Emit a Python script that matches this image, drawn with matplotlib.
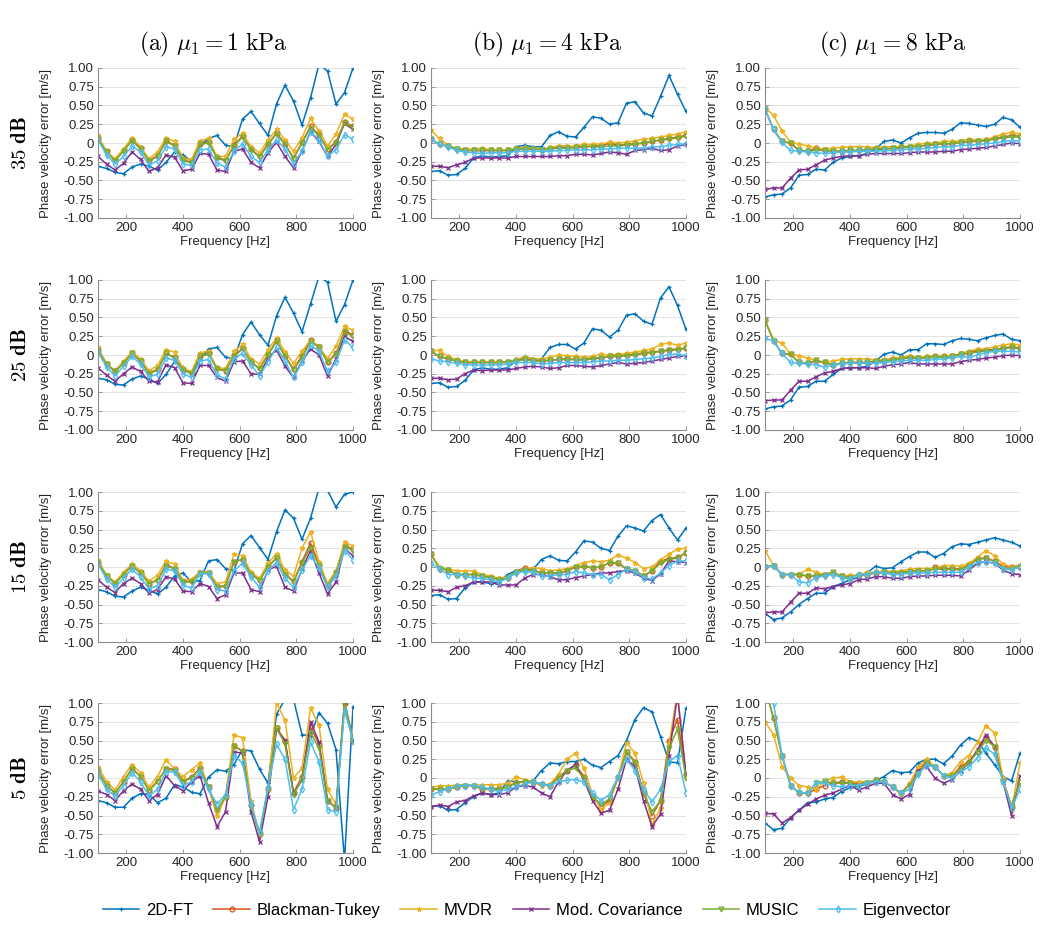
import numpy as np
import matplotlib.pyplot as plt

plt.rcParams['font.family'] = ['Liberation Sans', 'DejaVu Sans']
plt.rcParams['mathtext.fontset'] = 'cm'

freq = np.arange(100, 1001, 30)
methods = ['2D-FT', 'Blackman-Tukey', 'MVDR', 'Mod. Covariance', 'MUSIC', 'Eigenvector']
colors = ['#0072BD', '#D95319', '#EDB120', '#7E2F8E', '#77AC30', '#4DBEEE']
markers = ['+', 'o', '*', 'x', 'v', 'd']
col_titles = [r'$\mathrm{(a)}\ \mu_1 = 1\ \mathrm{kPa}$',
              r'$\mathrm{(b)}\ \mu_1 = 4\ \mathrm{kPa}$',
              r'$\mathrm{(c)}\ \mu_1 = 8\ \mathrm{kPa}$']
row_titles = ['35', '25', '15', '5']
yticks = [-1, -0.75, -0.5, -0.25, 0, 0.25, 0.5, 0.75, 1]
ytick_labels = ['-1.00', '-0.75', '-0.50', '-0.25', '0', '0.25', '0.50', '0.75', '1.00']
xticks = [200, 400, 600, 800, 1000]

# each panel: [2D-FT, Blackman-Tukey, MVDR, Mod. Covariance, MUSIC, Eigenvector]
a35 = [
    [-0.31,-0.34,-0.39,-0.41,-0.32,-0.28,-0.31,-0.36,-0.26,-0.12,-0.16,-0.24,-0.03,0.06,0.10,-0.03,-0.05,0.32,0.42,0.26,0.10,0.52,0.77,0.56,0.24,0.60,1.05,0.96,0.52,0.67,1.00],
    [0.06,-0.11,-0.23,-0.10,0.04,-0.07,-0.23,-0.17,0.03,-0.03,-0.22,-0.26,-0.01,0.01,-0.19,-0.23,-0.03,0.09,-0.08,-0.18,-0.01,0.13,-0.01,-0.20,0.01,0.22,0.11,-0.08,0.01,0.28,0.22],
    [0.10,-0.11,-0.21,-0.08,0.07,-0.05,-0.21,-0.12,0.07,0.02,-0.20,-0.22,0.03,0.06,-0.18,-0.18,0.05,0.13,-0.05,-0.13,0.04,0.18,0.04,-0.11,0.07,0.33,0.16,-0.04,0.12,0.38,0.32],
    [-0.18,-0.28,-0.36,-0.27,-0.12,-0.22,-0.38,-0.33,-0.16,-0.19,-0.37,-0.35,-0.14,-0.15,-0.36,-0.38,-0.11,-0.08,-0.26,-0.33,-0.13,0.01,-0.18,-0.33,-0.11,0.15,0.02,-0.18,-0.02,0.26,0.18],
    [0.05,-0.12,-0.24,-0.11,0.03,-0.08,-0.24,-0.18,0.02,-0.04,-0.23,-0.27,-0.02,0.00,-0.20,-0.24,-0.04,0.08,-0.09,-0.19,-0.02,0.12,-0.02,-0.21,0.00,0.20,0.10,-0.09,0.00,0.27,0.20],
    [0.04,-0.16,-0.28,-0.18,-0.04,-0.12,-0.29,-0.24,-0.05,-0.08,-0.28,-0.30,-0.09,-0.08,-0.27,-0.32,-0.11,-0.01,-0.18,-0.26,-0.09,0.04,-0.08,-0.28,-0.11,0.15,0.04,-0.18,-0.09,0.11,0.05],
]
b35 = [
    [-0.38,-0.37,-0.43,-0.42,-0.34,-0.20,-0.17,-0.19,-0.18,-0.17,-0.05,-0.03,-0.05,-0.05,0.10,0.15,0.09,0.08,0.21,0.35,0.33,0.25,0.27,0.53,0.55,0.40,0.36,0.62,0.90,0.65,0.42],
    [0.05,-0.02,-0.04,-0.08,-0.10,-0.10,-0.10,-0.10,-0.10,-0.10,-0.08,-0.08,-0.08,-0.09,-0.07,-0.06,-0.06,-0.06,-0.05,-0.04,-0.04,0.00,-0.03,-0.02,-0.01,0.00,0.02,0.04,0.06,0.08,0.10],
    [0.17,0.06,-0.03,-0.07,-0.08,-0.08,-0.07,-0.09,-0.09,-0.10,-0.07,-0.06,-0.07,-0.08,-0.06,-0.04,-0.04,-0.04,-0.02,-0.02,-0.01,0.01,0.00,0.01,0.03,0.05,0.06,0.08,0.10,0.12,0.15],
    [-0.31,-0.31,-0.33,-0.29,-0.26,-0.20,-0.20,-0.20,-0.20,-0.20,-0.18,-0.18,-0.18,-0.18,-0.18,-0.17,-0.17,-0.15,-0.15,-0.16,-0.14,-0.12,-0.13,-0.15,-0.10,-0.09,-0.07,-0.10,-0.09,-0.04,-0.02],
    [0.05,-0.02,-0.04,-0.08,-0.10,-0.10,-0.10,-0.10,-0.10,-0.10,-0.08,-0.08,-0.08,-0.09,-0.08,-0.07,-0.07,-0.06,-0.05,-0.05,-0.05,-0.04,-0.04,-0.03,-0.02,0.00,0.02,0.04,0.05,0.07,0.09],
    [0.05,-0.02,-0.05,-0.10,-0.12,-0.13,-0.14,-0.13,-0.13,-0.13,-0.11,-0.11,-0.11,-0.11,-0.11,-0.10,-0.10,-0.09,-0.09,-0.09,-0.08,-0.08,-0.07,-0.07,-0.07,-0.07,-0.05,-0.05,-0.03,-0.02,-0.01],
]
c35 = [
    [-0.72,-0.69,-0.68,-0.60,-0.43,-0.42,-0.35,-0.36,-0.26,-0.20,-0.18,-0.17,-0.14,-0.08,0.02,0.04,0.00,0.07,0.13,0.14,0.14,0.13,0.18,0.27,0.26,0.24,0.22,0.25,0.34,0.31,0.21],
    [0.45,0.18,0.02,0.00,-0.10,-0.11,-0.07,-0.09,-0.11,-0.11,-0.10,-0.10,-0.09,-0.08,-0.08,-0.07,-0.06,-0.05,-0.04,-0.03,-0.02,-0.01,-0.01,0.01,0.02,0.03,0.04,0.06,0.08,0.10,0.09],
    [0.47,0.37,0.16,0.01,-0.01,-0.04,-0.07,-0.08,-0.07,-0.06,-0.05,-0.05,-0.05,-0.06,-0.05,-0.05,-0.05,-0.04,-0.02,0.00,0.00,0.02,0.02,0.03,0.05,0.04,0.05,0.08,0.12,0.14,0.12],
    [-0.62,-0.60,-0.60,-0.47,-0.36,-0.35,-0.29,-0.23,-0.20,-0.18,-0.17,-0.17,-0.15,-0.14,-0.14,-0.14,-0.14,-0.13,-0.12,-0.12,-0.12,-0.11,-0.11,-0.09,-0.08,-0.07,-0.06,-0.04,-0.02,0.00,-0.01],
    [0.45,0.18,0.02,0.00,-0.10,-0.11,-0.10,-0.10,-0.11,-0.11,-0.10,-0.10,-0.09,-0.08,-0.08,-0.07,-0.06,-0.05,-0.05,-0.03,-0.02,-0.01,-0.01,0.01,0.02,0.02,0.03,0.05,0.07,0.08,0.08],
    [0.45,0.18,0.01,-0.10,-0.11,-0.12,-0.13,-0.14,-0.13,-0.12,-0.12,-0.11,-0.11,-0.11,-0.10,-0.10,-0.09,-0.08,-0.08,-0.07,-0.06,-0.05,-0.05,-0.03,-0.03,-0.02,-0.01,0.00,0.02,0.03,0.03],
]
a25 = [
    [-0.31,-0.33,-0.39,-0.40,-0.32,-0.28,-0.32,-0.38,-0.26,-0.09,-0.16,-0.26,-0.05,0.08,0.10,-0.03,-0.05,0.27,0.44,0.27,0.13,0.52,0.77,0.56,0.31,0.68,1.05,0.97,0.45,0.67,1.00],
    [0.06,-0.12,-0.22,-0.11,0.02,-0.08,-0.24,-0.19,0.02,-0.03,-0.20,-0.24,-0.02,0.02,-0.18,-0.21,-0.01,0.09,-0.09,-0.18,0.01,0.19,-0.01,-0.19,-0.01,0.20,0.11,-0.09,0.02,0.32,0.27],
    [0.10,-0.11,-0.21,-0.08,0.04,-0.05,-0.21,-0.14,0.07,0.04,-0.18,-0.22,0.03,0.05,-0.17,-0.18,0.05,0.14,-0.05,-0.12,0.07,0.23,0.04,-0.11,0.05,0.20,0.11,-0.05,0.12,0.38,0.33],
    [-0.17,-0.27,-0.35,-0.25,-0.16,-0.22,-0.35,-0.36,-0.13,-0.17,-0.37,-0.38,-0.14,-0.14,-0.30,-0.35,-0.09,-0.08,-0.25,-0.26,-0.04,0.07,-0.15,-0.30,-0.08,0.08,0.00,-0.28,-0.05,0.25,0.18],
    [0.05,-0.12,-0.22,-0.11,0.02,-0.08,-0.25,-0.20,0.02,-0.04,-0.20,-0.25,-0.02,0.01,-0.19,-0.21,-0.02,0.08,-0.09,-0.19,0.00,0.18,-0.02,-0.20,-0.03,0.18,0.10,-0.10,0.01,0.30,0.25],
    [0.04,-0.16,-0.28,-0.15,-0.02,-0.12,-0.29,-0.26,-0.04,-0.07,-0.25,-0.30,-0.08,-0.06,-0.27,-0.32,-0.05,0.02,-0.13,-0.28,-0.09,0.10,-0.08,-0.30,-0.10,0.13,0.05,-0.22,-0.10,0.20,0.10],
]
b25 = [
    [-0.38,-0.37,-0.43,-0.42,-0.34,-0.20,-0.17,-0.19,-0.19,-0.17,-0.08,-0.02,-0.05,-0.05,0.10,0.14,0.14,0.08,0.16,0.35,0.33,0.24,0.33,0.53,0.55,0.45,0.41,0.76,0.91,0.66,0.34],
    [0.05,-0.02,-0.05,-0.08,-0.10,-0.10,-0.10,-0.10,-0.10,-0.09,-0.07,-0.05,-0.07,-0.08,-0.07,-0.06,-0.05,-0.06,-0.06,-0.04,-0.04,-0.02,-0.01,0.00,0.01,0.03,0.04,0.05,0.07,0.08,0.09],
    [0.06,0.06,-0.02,-0.06,-0.09,-0.09,-0.09,-0.10,-0.10,-0.10,-0.06,-0.03,-0.05,-0.05,-0.03,0.00,-0.01,-0.02,-0.03,-0.02,0.01,0.00,0.01,0.02,0.04,0.06,0.08,0.14,0.16,0.13,0.16],
    [-0.31,-0.31,-0.33,-0.32,-0.25,-0.20,-0.21,-0.20,-0.20,-0.20,-0.18,-0.16,-0.15,-0.16,-0.18,-0.17,-0.14,-0.14,-0.15,-0.16,-0.14,-0.12,-0.10,-0.12,-0.11,-0.10,-0.08,-0.06,-0.04,-0.02,-0.01],
    [0.05,-0.02,-0.05,-0.08,-0.10,-0.10,-0.10,-0.10,-0.10,-0.09,-0.08,-0.06,-0.08,-0.08,-0.07,-0.06,-0.06,-0.06,-0.07,-0.05,-0.04,-0.02,-0.02,-0.01,0.00,0.02,0.03,0.05,0.06,0.07,0.09],
    [-0.05,-0.08,-0.09,-0.11,-0.13,-0.13,-0.14,-0.13,-0.13,-0.12,-0.10,-0.10,-0.10,-0.12,-0.11,-0.10,-0.10,-0.10,-0.10,-0.09,-0.08,-0.08,-0.07,-0.07,-0.06,-0.05,-0.04,-0.02,0.01,0.01,-0.01],
]
c25 = [
    [-0.72,-0.69,-0.68,-0.60,-0.43,-0.42,-0.35,-0.35,-0.26,-0.18,-0.17,-0.17,-0.15,-0.08,0.01,0.04,0.00,0.07,0.07,0.15,0.15,0.14,0.19,0.22,0.21,0.19,0.23,0.26,0.28,0.21,0.19],
    [0.46,0.19,0.02,0.01,-0.10,-0.11,-0.08,-0.10,-0.13,-0.11,-0.10,-0.10,-0.10,-0.08,-0.08,-0.06,-0.05,-0.03,-0.04,-0.03,-0.01,-0.02,-0.02,0.01,0.03,0.06,0.07,0.07,0.09,0.11,0.09],
    [0.47,0.20,0.16,0.01,-0.01,-0.04,-0.07,-0.10,-0.08,-0.06,-0.05,-0.05,-0.05,-0.07,-0.06,-0.04,-0.03,-0.01,-0.03,-0.02,-0.01,-0.01,-0.01,0.02,0.05,0.08,0.08,0.11,0.13,0.15,0.13],
    [-0.61,-0.60,-0.60,-0.47,-0.35,-0.35,-0.29,-0.24,-0.22,-0.18,-0.17,-0.17,-0.17,-0.18,-0.15,-0.13,-0.12,-0.10,-0.12,-0.12,-0.12,-0.12,-0.12,-0.09,-0.07,-0.06,-0.04,-0.03,-0.01,0.00,-0.01],
    [0.46,0.19,0.02,0.01,-0.10,-0.11,-0.07,-0.10,-0.13,-0.11,-0.10,-0.10,-0.10,-0.08,-0.08,-0.07,-0.05,-0.04,-0.04,-0.04,-0.03,-0.03,-0.02,0.01,0.02,0.04,0.05,0.06,0.08,0.10,0.08],
    [0.22,0.19,0.02,-0.10,-0.11,-0.12,-0.13,-0.16,-0.14,-0.12,-0.11,-0.11,-0.11,-0.11,-0.10,-0.09,-0.08,-0.07,-0.07,-0.07,-0.06,-0.05,-0.04,-0.02,-0.03,0.00,0.03,0.05,0.05,0.05,0.04],
]
a15 = [
    [-0.30,-0.33,-0.39,-0.40,-0.32,-0.27,-0.31,-0.36,-0.27,-0.12,-0.08,-0.20,-0.18,0.08,0.10,-0.02,-0.05,0.31,0.42,0.26,0.10,0.47,0.76,0.65,0.37,0.65,1.05,1.02,0.80,0.97,1.00],
    [0.06,-0.12,-0.22,-0.10,0.02,-0.08,-0.22,-0.17,0.03,-0.02,-0.19,-0.19,-0.08,-0.08,-0.26,-0.25,0.07,0.10,-0.09,-0.17,0.01,0.12,-0.09,-0.19,0.07,0.32,0.03,-0.24,-0.07,0.28,0.24],
    [0.10,-0.11,-0.20,-0.07,0.04,-0.05,-0.19,-0.11,0.08,0.04,-0.18,-0.16,-0.07,-0.06,-0.22,-0.20,0.17,0.15,-0.07,-0.15,0.05,0.18,-0.04,-0.12,0.25,0.47,0.07,-0.22,-0.05,0.33,0.28],
    [-0.17,-0.27,-0.34,-0.22,-0.15,-0.22,-0.35,-0.30,-0.13,-0.16,-0.32,-0.33,-0.22,-0.26,-0.42,-0.37,-0.08,-0.08,-0.30,-0.33,-0.04,0.01,-0.27,-0.32,-0.03,0.22,-0.08,-0.36,-0.20,0.25,0.15],
    [0.05,-0.12,-0.22,-0.10,0.01,-0.08,-0.22,-0.18,0.02,-0.03,-0.20,-0.20,-0.08,-0.08,-0.27,-0.26,0.07,0.10,-0.10,-0.18,0.00,0.12,-0.10,-0.20,0.05,0.26,0.02,-0.25,-0.08,0.27,0.22],
    [0.04,-0.16,-0.27,-0.15,-0.03,-0.13,-0.29,-0.25,-0.03,-0.05,-0.24,-0.28,-0.09,-0.09,-0.30,-0.32,-0.05,0.05,-0.13,-0.27,-0.05,0.06,-0.15,-0.27,-0.04,0.15,-0.01,-0.27,-0.12,0.22,0.10],
]
b15 = [
    [-0.38,-0.37,-0.43,-0.42,-0.28,-0.20,-0.20,-0.22,-0.20,-0.10,-0.05,-0.05,-0.03,0.10,0.15,0.09,0.08,0.20,0.35,0.33,0.25,0.22,0.41,0.55,0.52,0.48,0.62,0.70,0.52,0.36,0.52],
    [0.17,-0.02,-0.04,-0.10,-0.10,-0.10,-0.12,-0.14,-0.16,-0.15,-0.06,-0.01,-0.04,-0.08,-0.08,-0.08,-0.05,0.00,0.01,-0.01,0.00,0.06,0.05,-0.02,-0.05,-0.12,-0.05,0.08,0.11,0.13,0.19],
    [0.17,0.00,-0.03,-0.05,-0.05,-0.05,-0.10,-0.12,-0.15,-0.13,-0.08,-0.02,-0.01,-0.02,-0.05,-0.04,-0.02,0.02,0.06,0.08,0.07,0.09,0.16,0.12,0.06,-0.02,0.00,0.10,0.17,0.24,0.25],
    [-0.31,-0.31,-0.33,-0.27,-0.25,-0.20,-0.20,-0.20,-0.24,-0.24,-0.24,-0.15,-0.10,-0.10,-0.13,-0.17,-0.17,-0.14,-0.12,-0.10,-0.08,-0.08,-0.06,-0.05,-0.08,-0.15,-0.18,-0.09,0.08,0.07,0.06],
    [0.17,-0.02,-0.04,-0.10,-0.10,-0.10,-0.12,-0.14,-0.17,-0.15,-0.06,-0.04,-0.05,-0.08,-0.08,-0.08,-0.05,0.00,0.00,-0.01,0.00,0.06,0.05,-0.03,-0.05,-0.12,-0.05,0.05,0.10,0.12,0.19],
    [0.05,-0.03,-0.10,-0.10,-0.12,-0.15,-0.15,-0.17,-0.20,-0.15,-0.08,-0.06,-0.07,-0.12,-0.12,-0.10,-0.10,-0.06,-0.08,-0.10,-0.10,-0.17,-0.10,-0.03,-0.06,-0.14,-0.16,-0.08,0.02,0.08,0.08],
]
c15 = [
    [-0.62,-0.70,-0.68,-0.60,-0.50,-0.42,-0.35,-0.35,-0.26,-0.22,-0.17,-0.14,-0.08,0.01,-0.02,-0.01,0.07,0.14,0.20,0.20,0.13,0.18,0.27,0.31,0.30,0.33,0.36,0.39,0.36,0.33,0.28],
    [0.00,0.02,-0.10,-0.10,-0.10,-0.12,-0.12,-0.10,-0.08,-0.12,-0.14,-0.10,-0.10,-0.08,-0.07,-0.08,-0.07,-0.06,-0.05,-0.05,0.00,-0.02,-0.02,-0.03,0.03,0.11,0.12,0.08,0.01,0.00,0.00],
    [0.22,0.02,-0.10,-0.10,-0.10,-0.03,-0.07,-0.10,-0.08,-0.12,-0.11,-0.11,-0.07,-0.07,-0.05,-0.06,-0.05,-0.03,-0.02,-0.02,-0.02,0.02,0.02,0.01,0.05,0.13,0.22,0.15,0.04,0.00,0.03],
    [-0.61,-0.60,-0.60,-0.47,-0.35,-0.35,-0.28,-0.29,-0.26,-0.24,-0.22,-0.17,-0.16,-0.13,-0.13,-0.15,-0.15,-0.13,-0.12,-0.12,-0.11,-0.11,-0.11,-0.12,-0.04,0.05,0.07,0.05,-0.04,-0.09,-0.10],
    [0.00,0.02,-0.10,-0.10,-0.10,-0.12,-0.12,-0.10,-0.07,-0.12,-0.15,-0.10,-0.10,-0.08,-0.07,-0.08,-0.08,-0.06,-0.05,-0.05,-0.03,-0.03,-0.03,-0.04,0.02,0.10,0.12,0.07,-0.02,-0.02,0.00],
    [0.00,0.01,-0.10,-0.10,-0.20,-0.21,-0.14,-0.12,-0.10,-0.14,-0.16,-0.10,-0.10,-0.07,-0.08,-0.10,-0.10,-0.08,-0.08,-0.08,-0.07,-0.07,-0.07,-0.07,0.00,0.06,0.07,0.05,-0.02,-0.04,0.00],
]
a5 = [
    [-0.30,-0.33,-0.39,-0.39,-0.27,-0.21,-0.22,-0.33,-0.27,-0.09,-0.12,-0.19,-0.21,0.01,0.11,0.09,0.18,0.38,0.36,0.12,-0.07,0.85,1.05,1.05,0.58,0.56,0.87,0.73,0.38,-1.10,0.95],
    [0.10,-0.10,-0.20,-0.05,0.13,0.02,-0.16,-0.04,0.12,0.12,-0.04,0.01,0.13,-0.12,-0.43,-0.25,0.43,0.36,-0.36,-0.74,-0.15,0.67,0.50,-0.20,0.02,0.68,0.45,-0.30,-0.40,1.00,0.50],
    [0.15,-0.05,-0.16,0.02,0.18,0.07,-0.12,0.02,0.24,0.12,0.02,0.11,0.20,-0.13,-0.51,-0.25,0.57,0.54,-0.30,-0.76,-0.15,1.00,0.77,0.00,0.13,0.93,0.71,-0.15,-0.36,1.05,0.50],
    [-0.17,-0.22,-0.30,-0.17,-0.08,-0.15,-0.30,-0.22,0.03,-0.10,-0.17,-0.05,0.03,-0.33,-0.65,-0.45,0.35,0.33,-0.45,-0.85,-0.25,0.65,0.50,-0.20,-0.03,0.75,0.48,-0.30,-0.40,1.00,0.50],
    [0.10,-0.10,-0.20,-0.05,0.12,0.02,-0.17,-0.05,0.12,0.10,-0.05,0.00,0.12,-0.12,-0.43,-0.25,0.43,0.35,-0.38,-0.75,-0.15,0.67,0.45,-0.22,-0.02,0.60,0.40,-0.30,-0.40,1.00,0.50],
    [0.05,-0.15,-0.24,-0.10,0.07,-0.05,-0.24,-0.15,0.08,0.08,-0.10,-0.05,0.08,-0.15,-0.35,-0.22,0.30,0.20,-0.35,-0.72,-0.12,0.45,0.25,-0.42,-0.15,0.48,0.22,-0.42,-0.45,0.90,0.50],
]
b5 = [
    [-0.38,-0.37,-0.43,-0.42,-0.33,-0.25,-0.20,-0.22,-0.20,-0.04,-0.05,-0.06,-0.04,0.10,0.20,0.19,0.22,0.22,0.25,0.17,0.14,0.22,0.30,0.50,0.78,0.94,0.88,0.55,0.22,0.20,0.93],
    [-0.14,-0.15,-0.15,-0.12,-0.10,-0.10,-0.14,-0.14,-0.14,-0.12,-0.06,-0.05,-0.05,-0.08,-0.10,0.02,0.10,0.17,0.02,-0.25,-0.38,-0.30,0.02,0.35,0.22,-0.20,-0.50,-0.30,0.50,0.78,0.05],
    [-0.13,-0.10,-0.11,-0.09,-0.09,-0.10,-0.09,-0.09,-0.09,-0.07,0.01,-0.02,-0.05,-0.11,-0.08,0.05,0.25,0.33,0.13,-0.22,-0.42,-0.33,0.00,0.47,0.33,-0.07,-0.62,-0.40,0.45,1.15,0.00],
    [-0.38,-0.36,-0.38,-0.32,-0.30,-0.24,-0.20,-0.22,-0.22,-0.20,-0.12,-0.10,-0.12,-0.20,-0.25,-0.05,0.10,0.18,-0.03,-0.30,-0.47,-0.43,-0.15,0.25,0.15,-0.30,-0.65,-0.48,0.30,1.10,0.05],
    [-0.15,-0.15,-0.15,-0.12,-0.10,-0.10,-0.15,-0.15,-0.15,-0.12,-0.07,-0.05,-0.05,-0.09,-0.10,0.00,0.10,0.13,0.00,-0.25,-0.35,-0.28,0.00,0.35,0.20,-0.20,-0.45,-0.30,0.40,0.65,0.00],
    [-0.23,-0.18,-0.15,-0.10,-0.10,-0.10,-0.12,-0.15,-0.18,-0.15,-0.12,-0.08,-0.05,-0.08,-0.10,-0.05,-0.03,-0.02,-0.05,-0.20,-0.30,-0.22,0.02,0.25,0.10,-0.15,-0.32,-0.15,0.22,0.30,-0.20],
]
c5 = [
    [-0.60,-0.69,-0.67,-0.53,-0.43,-0.33,-0.32,-0.28,-0.26,-0.18,-0.13,-0.11,-0.08,-0.04,0.02,0.10,0.07,0.08,0.20,0.25,0.25,0.19,0.29,0.44,0.54,0.49,0.33,0.18,0.02,-0.04,0.33],
    [1.20,0.80,0.30,-0.10,-0.20,-0.20,-0.15,-0.10,-0.07,-0.05,-0.07,-0.07,-0.06,-0.03,-0.05,-0.12,-0.20,-0.08,0.10,0.22,0.15,0.03,0.03,0.15,0.22,0.35,0.55,0.42,-0.02,-0.38,-0.05],
    [0.75,0.58,0.15,0.00,-0.10,-0.12,-0.14,-0.05,0.00,0.01,-0.05,-0.05,-0.05,-0.03,-0.05,-0.12,-0.22,-0.08,0.15,0.25,0.15,0.03,0.07,0.22,0.30,0.48,0.70,0.60,0.00,-0.42,0.20],
    [-0.47,-0.48,-0.60,-0.53,-0.43,-0.35,-0.28,-0.23,-0.20,-0.15,-0.10,-0.16,-0.12,-0.07,-0.07,-0.22,-0.28,-0.22,0.10,0.15,0.00,-0.07,-0.02,0.10,0.20,0.38,0.57,0.42,-0.05,-0.50,0.03],
    [1.20,0.80,0.30,-0.10,-0.20,-0.20,-0.07,-0.04,-0.07,-0.07,-0.07,-0.10,-0.07,-0.03,-0.05,-0.12,-0.20,-0.10,0.05,0.20,0.15,0.03,0.03,0.12,0.20,0.35,0.50,0.42,-0.05,-0.37,-0.05],
    [1.30,1.00,0.30,-0.10,-0.19,-0.20,-0.07,-0.07,-0.10,-0.12,-0.10,-0.10,-0.07,-0.05,-0.05,-0.12,-0.20,-0.15,0.05,0.17,0.15,0.03,0.00,0.08,0.15,0.27,0.40,0.32,-0.05,-0.40,-0.15],
]

panels = [[a35, b35, c35], [a25, b25, c25], [a15, b15, c15], [a5, b5, c5]]

W, H = 1050, 938
fig = plt.figure(figsize=(W / 100, H / 100), dpi=100)

col_left = [98, 431, 765]
row_top = [68, 280, 492, 703]
ax_w, ax_h = 255, 150
title_x = [213, 547, 893]

handles = []
for r in range(4):
    for c in range(3):
        ax = fig.add_axes([col_left[c] / W, 1 - (row_top[r] + ax_h) / H, ax_w / W, ax_h / H])
        for k, ys in enumerate(panels[r][c]):
            ln, = ax.plot(freq, ys, color=colors[k], marker=markers[k], markersize=3.5,
                          markerfacecolor='none', markeredgewidth=0.9, linewidth=1.1)
            if r == 0 and c == 0:
                handles.append(ln)
        ax.set_xlim(100, 1000)
        ax.set_ylim(-1, 1)
        ax.set_xticks(xticks)
        ax.set_yticks(yticks)
        ax.set_yticklabels(ytick_labels)
        ax.grid(axis='y', color='#e3e3e3', linewidth=0.7)
        ax.set_axisbelow(True)
        for s in ['top', 'right']:
            ax.spines[s].set_visible(False)
        for s in ['left', 'bottom']:
            ax.spines[s].set_color('#8c8c8c')
            ax.spines[s].set_linewidth(0.8)
        ax.tick_params(direction='in', length=3, width=0.6, color='#8c8c8c',
                       labelsize=9.5, labelcolor='#262626', pad=3)
        ax.set_xlabel('Frequency [Hz]', fontsize=9.5, color='#262626', labelpad=1)
        ax.set_ylabel('Phase velocity error [m/s]', fontsize=9.5, color='#262626')
        ax.yaxis.set_label_coords(-0.18, 0.5)

for c in range(3):
    fig.text(title_x[c] / W, 1 - 44 / H, col_titles[c],
             ha='center', va='center', fontsize=17)
for r in range(4):
    fig.text(20 / W, 1 - (row_top[r] + ax_h / 2) / H, r'$\mathbf{' + row_titles[r] + r'\ dB}$',
             ha='center', va='center', rotation=90, fontsize=15)

fig.legend(handles, methods, loc='center', bbox_to_anchor=(527 / W, 1 - 910 / H), ncol=6,
           frameon=False, fontsize=12, handlelength=2.2, handletextpad=0.4, columnspacing=1.2)

fig.savefig('out.png', dpi=100)
